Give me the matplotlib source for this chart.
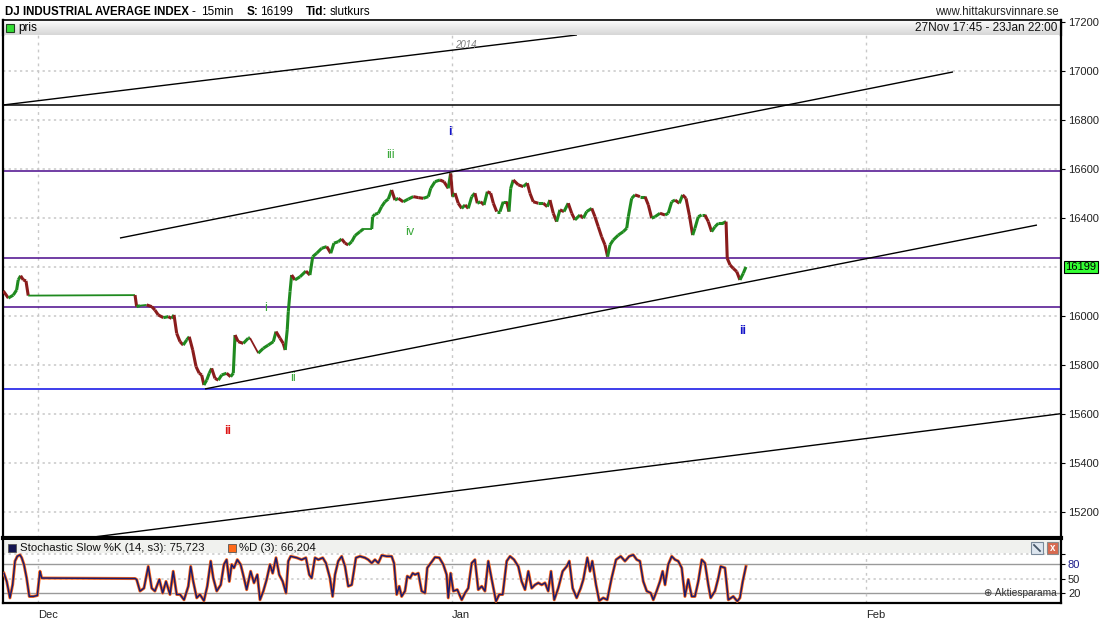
import matplotlib
matplotlib.use('Agg')
import matplotlib.pyplot as plt
import numpy as np
from matplotlib.collections import LineCollection
from matplotlib.patches import Rectangle

# ---------------- data (days since 1 Dec 2013) ----------------
price_day = [-2.60, -2.22, -1.85, -1.60, -1.48, -1.30, -1.10, -0.90, -0.73,
             7.27,
             7.39, 7.64, 8.14, 8.52, 8.76, 9.01, 9.39, 9.76, 10.01, 10.19,
             10.39, 10.64, 10.88, 11.14, 11.33, 11.59, 11.84, 12.08, 12.26, 12.43,
             12.64, 12.83, 13.01, 13.26, 13.51, 13.76, 14.13, 14.43, 14.63, 14.76,
             15.00, 15.38, 15.75, 15.88, 16.50, 16.88, 17.25, 17.63, 17.83, 18.13,
             18.37, 18.52, 18.67, 18.75, 18.88, 19.00, 19.25, 19.63, 20.07, 20.37,
             20.58, 20.88, 21.25, 21.63, 21.93, 22.17, 22.49, 22.75, 23.00, 23.24,
             23.50, 23.75, 24.12, 24.37, 25.00, 25.07, 25.24, 25.49, 25.74, 25.99,
             26.24, 26.49, 26.74, 26.99, 27.36, 27.74, 28.11, 28.49, 28.86, 29.24,
             29.42, 29.74, 30.11, 30.41, 30.73, 30.91, 31.06, 31.24, 31.48, 31.74,
             31.99, 32.23, 32.49, 32.73, 32.91, 33.16, 33.41, 33.66, 33.91, 34.11,
             34.36, 34.61, 34.85, 35.11, 35.28, 35.41, 35.60, 35.98, 36.35, 36.65,
             36.85, 37.10, 37.48, 37.85, 38.15, 38.35, 38.60, 38.85, 39.10, 39.40,
             39.72, 39.98, 40.22, 40.60, 40.85, 41.10, 41.48, 41.72, 41.97, 42.22,
             42.47, 42.67, 42.85, 43.09, 43.47, 43.84, 44.10, 44.22, 44.47, 44.72,
             45.09, 45.47, 45.72, 45.97, 46.22, 46.59, 46.97, 47.21, 47.47, 47.72,
             48.04, 48.29, 48.54, 48.79, 49.04, 49.21, 49.46, 49.71, 49.96, 50.21,
             50.46, 50.71, 50.96, 51.29, 51.54, 51.63, 51.84, 52.08, 52.34, 52.58,
             52.83, 53.03]
price_close = [16101, 16072, 16084, 16105, 16146, 16163, 16146, 16142, 16082,
               16084,
               16037, 16041, 16044, 16037, 16023, 16003, 15992, 15996, 15989, 16003,
               15928, 15894, 15880, 15901, 15914, 15860, 15792, 15765, 15758, 15717,
               15737, 15765, 15785, 15744, 15737, 15758, 15765, 15751, 15765, 15921,
               15894, 15887, 15908, 15909, 15847, 15867, 15880, 15894, 15935, 15908,
               15887, 15860, 15942, 16016, 16098, 16166, 16146, 16159, 16182, 16166,
               16241, 16255, 16275, 16282, 16255, 16296, 16302, 16313, 16296, 16289,
               16302, 16327, 16343, 16354, 16354, 16404, 16414, 16418, 16445, 16465,
               16476, 16513, 16472, 16479, 16465, 16476, 16486, 16482, 16479, 16486,
               16520, 16547, 16554, 16547, 16520, 16581, 16486, 16500, 16459, 16438,
               16452, 16438, 16486, 16500, 16459, 16465, 16452, 16506, 16500, 16459,
               16425, 16425, 16465, 16465, 16425, 16520, 16554, 16534, 16527, 16541,
               16500, 16465, 16459, 16459, 16445, 16472, 16418, 16384, 16432, 16425,
               16459, 16418, 16391, 16411, 16398, 16425, 16438, 16404, 16363, 16322,
               16289, 16241, 16289, 16309, 16329, 16343, 16357, 16404, 16479, 16493,
               16486, 16486, 16452, 16398, 16404, 16418, 16411, 16418, 16465, 16472,
               16459, 16493, 16479, 16411, 16329, 16357, 16404, 16411, 16411, 16384,
               16343, 16363, 16377, 16377, 16384, 16234, 16207, 16193, 16180, 16146,
               16173, 16199]

stoch_day = [-2.55, -2.34, -2.10, -1.90, -1.72, -1.55, -1.35, -1.22, -1.05, -0.85,
             -0.65, -0.35, -0.05, 0.15, 0.28, 7.27, 7.39, 7.64, 7.94, 8.26,
             8.52, 8.76, 9.09, 9.34, 9.59, 9.89, 10.13, 10.39, 10.64, 10.94,
             11.26, 11.44, 11.63, 11.89, 12.13, 12.43, 12.68, 12.94, 13.13, 13.39,
             13.69, 13.93, 14.13, 14.33, 14.51, 14.68, 14.93, 15.18, 15.43, 15.63,
             15.93, 16.18, 16.43, 16.63, 16.88, 17.13, 17.38, 17.58, 17.83, 18.07,
             18.33, 18.58, 18.75, 18.93, 19.38, 19.75, 20.07, 20.32, 20.50, 20.75,
             21.00, 21.33, 21.57, 21.87, 22.07, 22.25, 22.49, 22.75, 23.00, 23.24,
             23.50, 23.82, 24.12, 24.49, 24.74, 25.00, 25.24, 25.49, 25.75, 26.12,
             26.49, 26.67, 26.87, 27.06, 27.24, 27.49, 27.66, 27.87, 28.07, 28.24,
             28.49, 28.74, 28.99, 29.16, 29.42, 29.74, 30.06, 30.36, 30.61, 30.73,
             30.91, 31.11, 31.41, 31.74, 31.99, 32.23, 32.49, 32.73, 32.98, 33.24,
             33.48, 33.73, 33.99, 34.31, 34.55, 34.81, 35.11, 35.36, 35.66, 35.98,
             36.23, 36.48, 36.73, 36.98, 37.23, 37.48, 37.73, 37.98, 38.22, 38.43,
             38.67, 38.97, 39.30, 39.60, 39.80, 40.05, 40.35, 40.65, 40.85, 41.15,
             41.35, 41.52, 41.80, 42.04, 42.34, 42.64, 42.97, 43.30, 43.65, 43.97,
             44.29, 44.59, 44.85, 45.09, 45.34, 45.60, 45.90, 46.09, 46.34, 46.59,
             46.79, 46.97, 47.21, 47.47, 47.72, 47.96, 48.22, 48.46, 48.71, 48.97,
             49.21, 49.46, 49.72, 49.96, 50.21, 50.39, 50.71, 50.96, 51.14, 51.46,
             51.71, 52.08, 52.38, 52.58, 52.79, 53.03]
stoch_k = [61, 44, 10, 37, 86, 96, 99, 93, 79, 51,
           13, 13, 15, 65, 51, 50, 48, 24, 30, 75,
           30, 24, 48, 20, 44, 17, 65, 17, 17, 6,
           34, 75, 44, 10, 17, 4, 34, 86, 51, 24,
           37, 79, 89, 44, 79, 72, 89, 79, 51, 27,
           65, 41, 58, 6, 24, 48, 79, 61, 93, 58,
           44, 20, 86, 96, 93, 89, 93, 58, 51, 93,
           89, 93, 82, 51, 13, 58, 86, 96, 75, 34,
           37, 93, 96, 93, 89,
           82, 89, 82, 98, 96, 96, 82, 17, 34, 13,
           24, 55, 51, 61, 58, 61, 24, 20, 72, 82,
           94, 93, 79, 58, 10, 61, 24, 27, 6, 20,
           30, 82, 89, 27, 34, 24, 86, 48, 3, 17,
           17, 86, 96, 89, 75, 44, 27, 65, 30, 37,
           41, 37, 41, 24, 65, 6, 30, 65, 75, 86,
           30, 10, 30, 48, 93, 65, 86, 37, 4, 10,
           6, 51, 89, 96, 86, 96, 99, 89, 86, 44,
           24, 20, 6, 24, 44, 65, 37, 79, 96, 89,
           86, 72, 13, 48, 13, 13, 44, 89, 82, 37,
           10, 24, 51, 75, 72, 6, 13, 3, 10, 44,
           75]
# %D follows %K within about a pixel at this sampling, read as the same values
stoch_d = list(stoch_k)

# horizontal levels
black_level = 16860
purple_levels = [16591, 16234, 16034]
blue_level = 15700
# trend lines: (day1, price1, day2, price2)
trend_lines = [(-2.62, 16860, 40.37, 17146),
               (6.14, 16317, 68.54, 16995),
               (12.51, 15701, 74.83, 16370),
               (3.52, 15092, 76.63, 15600)]
# wave labels: (text, day, price, colour, bold)
wave_labels = [("i", 30.86, 16750, '#1414c8', True),
               ("iii", 26.37, 16656, '#3aa83a', False),
               ("iv", 27.87, 16342, '#3aa83a', False),
               ("i", 17.08, 16032, '#3aa83a', False),
               ("ii", 19.10, 15746, '#3aa83a', False),
               ("ii", 14.23, 15529, '#dd1515', True),
               ("ii", 52.81, 15938, '#1414c8', True)]
month_days = [0, 31, 62]
month_names = ['Dec', 'Jan', 'Feb']
grid_levels = [17200, 17000, 16800, 16600, 16400, 16200, 16000, 15800, 15600, 15400, 15200]
price_ticks = [17200, 17000, 16800, 16600, 16400, 16000, 15800, 15600, 15400, 15200]
last_close = 16199

# ---------------- figure ----------------
W, H = 1104, 626
plt.rcParams['font.family'] = ['Liberation Sans', 'DejaVu Sans']
fig = plt.figure(figsize=(W / 100, H / 100), dpi=100)
fig.patch.set_facecolor('white')

def fx(px):
    return px / W

def fy(py):
    return 1 - py / H

XL = (-2.62, 76.63)
ax = fig.add_axes([fx(3), fy(538), fx(1058), (538 - 20) / H])
ax.set_xlim(*XL)
ax.set_ylim(15092.5, 17207)

ax.yaxis.tick_right()
ax.set_yticks(price_ticks)
ax.set_yticklabels([str(t) for t in price_ticks], fontsize=8, color='#222222')
ax.tick_params(axis='y', length=3, width=0.8, pad=2, color='black')
ax.set_xticks([])
for t in grid_levels:
    ax.axhline(t, color='#c8c8c8', lw=1.1, ls=(0, (1.5, 2.2)), zorder=0)
for d in month_days:
    ax.axvline(d, color='#c8c8c8', lw=1.0, ls=(0, (2, 3)), zorder=0)

for s in ['left', 'right']:
    ax.spines[s].set_linewidth(1.6)
    ax.spines[s].set_color('black')
ax.spines['bottom'].set_linewidth(3)
ax.spines['top'].set_visible(False)

# levels
ax.axhline(black_level, color='black', lw=1.1, zorder=2)
for lv in purple_levels:
    ax.axhline(lv, color='#4a0a8c', lw=1.1, zorder=2)
ax.axhline(blue_level, color='#0a0ae6', lw=1.1, zorder=2)
for (d1, p1, d2, p2) in trend_lines:
    ax.plot([d1, d2], [p1, p2], color='black', lw=1.0, zorder=2, solid_capstyle='butt')

# price path coloured like candles
pd_arr = np.array(price_day)
pc_arr = np.array(price_close, dtype=float)
segs, cols, lws = [], [], []
for i in range(1, len(pd_arr)):
    segs.append([(pd_arr[i - 1], pc_arr[i - 1]), (pd_arr[i], pc_arr[i])])
    up = pc_arr[i] >= pc_arr[i - 1]
    cols.append('#1f8a1f' if up else '#8a1c1c')
    lws.append(1.3 if (pd_arr[i] - pd_arr[i - 1]) > 0.5 else 2.2)
ax.add_collection(LineCollection(segs, colors=cols, linewidths=lws, zorder=4, capstyle='butt'))

for (txt, d, p, c, b) in wave_labels:
    ax.text(d, p, txt, color=c, fontsize=9, fontweight='bold' if b else 'normal',
            ha='center', va='center', zorder=5)
ax.text(32.06, 17105, "2014", color='#808080', fontsize=7, style='italic', ha='center', va='center')

ax.annotate(str(last_close), xy=(1.0, last_close), xycoords=('axes fraction', 'data'),
            xytext=(3, 0), textcoords='offset points', fontsize=8, va='center', ha='left',
            color='black', bbox=dict(boxstyle='square,pad=0.12', fc='#33ff33', ec='black', lw=0.8),
            annotation_clip=False)

# header strip of price panel
hx = fig.add_axes([fx(3), fy(35), fx(1058), 15 / H])
grad = np.linspace(0.99, 0.84, 20).reshape(-1, 1)
hx.imshow(grad, aspect='auto', cmap='gray', vmin=0, vmax=1, extent=[0, 1, 0, 1])
hx.set_xlim(0, 1)
hx.set_ylim(0, 1)
hx.set_xticks([])
hx.set_yticks([])
for s in hx.spines.values():
    s.set_visible(False)
hx.spines['top'].set_visible(True)
hx.spines['top'].set_linewidth(1.2)
hx.spines['left'].set_visible(True)
hx.spines['left'].set_linewidth(1.6)
hx.spines['right'].set_visible(True)
hx.spines['right'].set_linewidth(1.6)
fig.add_artist(Rectangle((fx(6), fy(32)), fx(8), 8 / H, transform=fig.transFigure,
                         fc='#33dd33', ec='#224422', lw=0.8, zorder=10))
fig.text(fx(18), fy(28), "pris", fontsize=8.5, va='center', ha='left', color='black', zorder=10)
fig.text(fx(1057), fy(28), "27Nov 17:45 - 23Jan 22:00", fontsize=8.5, va='center', ha='right',
         color='#111111', zorder=10)

# title line
ty = fy(12)
fig.text(fx(5), ty, "DJ INDUSTRIAL AVERAGE INDEX", fontsize=8.3, fontweight='bold', va='center')
fig.text(fx(192), ty, "-", fontsize=8.5, va='center')
fig.text(fx(201), ty, "15min", fontsize=8.5, va='center')
fig.text(fx(247), ty, "S:", fontsize=8.5, fontweight='bold', va='center')
fig.text(fx(260), ty, "16199", fontsize=8.5, va='center')
fig.text(fx(306), ty, "Tid:", fontsize=8.5, fontweight='bold', va='center')
fig.text(fx(330), ty, "slutkurs", fontsize=8.5, va='center')
fig.text(fx(1059), ty, "www.hittakursvinnare.se", fontsize=8.3, va='center', ha='right', color='#222222')

# ---------------- stochastic panel ----------------
ax2 = fig.add_axes([fx(3), fy(603), fx(1058), (603 - 540) / H])
ax2.set_xlim(*XL)
ax2.set_ylim(-0.6, 129.7)
ax2.axhspan(102, 130, fc='#f0f1ee', ec='none', zorder=0)
for lv in [80, 20]:
    ax2.axhline(lv, color='#9a9a9a', lw=1.0, zorder=1)
for lv in [50, 100]:
    ax2.axhline(lv, color='#c8c8c8', lw=1.1, ls=(0, (1.5, 2.2)), zorder=1)
for d in month_days:
    ax2.plot([d, d], [-1, 101], color='#c8c8c8', lw=1.0, ls=(0, (2, 3)), zorder=1)

ax2.plot(stoch_day, stoch_d, color='#ff6a1a', lw=2.2, zorder=3)
ax2.plot(stoch_day, stoch_k, color='#1c1c6e', lw=1.1, zorder=4)

ax2.yaxis.tick_right()
ax2.set_yticks([100, 80, 50, 20])
ax2.set_yticklabels(['', '80', '50', '20'], fontsize=8)
ax2.get_yticklabels()[1].set_color('#1c1c8a')
for lab in ax2.get_yticklabels()[2:]:
    lab.set_color('#222222')
ax2.tick_params(axis='y', length=3, width=0.8, pad=2)
ax2.set_xticks(month_days)
ax2.set_xticklabels(month_names, fontsize=8, color='#222222')
for lab in ax2.get_xticklabels():
    lab.set_horizontalalignment('left')
ax2.tick_params(axis='x', length=0, pad=5)
for s in ['left', 'right', 'bottom']:
    ax2.spines[s].set_linewidth(1.6)
ax2.spines['top'].set_visible(False)

# stochastic legend strip
sy = fy(548)
fig.add_artist(Rectangle((fx(8), fy(552)), fx(8), 8 / H, transform=fig.transFigure,
                         fc='#141450', ec='#555555', lw=0.6, zorder=10))
fig.text(fx(20), sy, "Stochastic Slow %K (14, s3): 75,723", fontsize=8.2, va='center', color='#111111')
fig.add_artist(Rectangle((fx(228), fy(552)), fx(8), 8 / H, transform=fig.transFigure,
                         fc='#ff6a1a', ec='#555555', lw=0.6, zorder=10))
fig.text(fx(239), sy, "%D (3): 66,204", fontsize=8.2, va='center', color='#111111')
# icons
fig.add_artist(Rectangle((fx(1031), fy(554)), fx(12), 12 / H, transform=fig.transFigure,
                         fc='#dde6ef', ec='#7a8a9a', lw=0.8, zorder=10))
fig.add_artist(plt.Line2D([fx(1034), fx(1040)], [fy(545), fy(551)], transform=fig.transFigure,
                          color='#445566', lw=1.3, zorder=11))
fig.add_artist(Rectangle((fx(1047), fy(554)), fx(11), 12 / H, transform=fig.transFigure,
                         fc='#d86a50', ec='#8a8a8a', lw=0.8, zorder=10))
fig.text(fx(1052.5), fy(548), "x", fontsize=7, fontweight='bold', color='white', ha='center',
         va='center', zorder=12)
fig.text(fx(1057), fy(593), "\u2295 Aktiesparama", fontsize=7.3, ha='right', va='center',
         color='#333333', family=['Liberation Sans', 'DejaVu Sans'], zorder=12)

fig.savefig('out.png', dpi=100, facecolor='white')
